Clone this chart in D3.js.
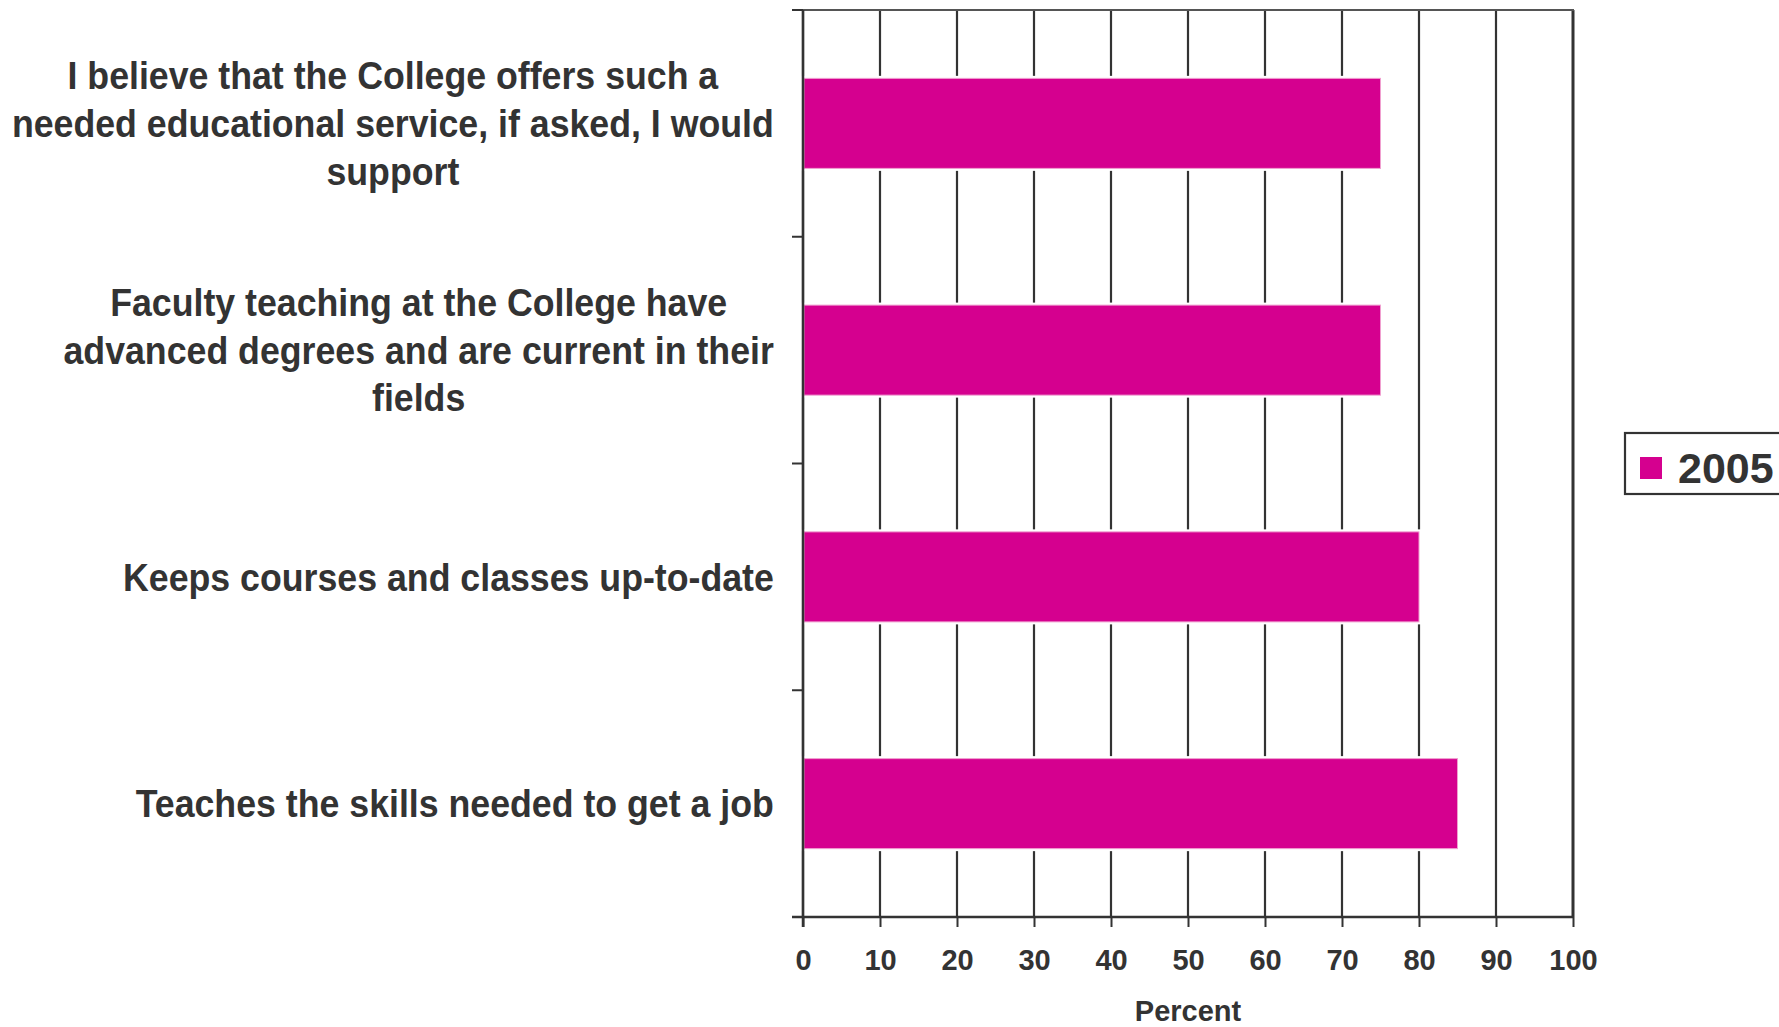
<!DOCTYPE html>
<html>
<head>
<meta charset="utf-8">
<script src="https://cdn.jsdelivr.net/npm/d3@7"></script>
<style>
  html, body { margin: 0; padding: 0; background: #fff; }
  svg { display: block; font-family: "Liberation Sans", Arial, sans-serif; }
</style>
</head>
<body>
<svg id="chart" width="1779" height="1027"></svg>
<script>
// ---- data ----
const categories = [
  "I believe that the College offers such a needed educational service, if asked, I would support",
  "Faculty teaching at the College have advanced degrees and are current in their fields",
  "Keeps courses and classes up-to-date",
  "Teaches the skills needed to get a job"
];
const categoryLines = [
  ["I believe that the College offers such a", "needed educational service, if asked, I would", "support"],
  ["Faculty teaching at the College have", "advanced degrees and are current in their", "fields"],
  ["Keeps courses and classes up-to-date"],
  ["Teaches the skills needed to get a job"]
];
const values2005 = [75, 75, 80, 85];
const xTicks = [0, 10, 20, 30, 40, 50, 60, 70, 80, 90, 100];
const seriesName = "2005";
const xTitle = "Percent";

// ---- layout ----
const svg = d3.select("#chart");
const pLeft = 803, pRight = 1573, pTop = 10, pBottom = 917;
const barColor = "#D5008F";
const ink = "#333333";

const x = d3.scaleLinear().domain([0, 100]).range([pLeft, pRight]);
const y = d3.scaleBand().domain(categories).range([pTop, pBottom])
  .paddingInner(0.603).paddingOuter(0.3015);

// gridlines
svg.append("g").selectAll("line").data(xTicks).join("line")
  .attr("x1", d => x(d)).attr("x2", d => x(d))
  .attr("y1", pTop).attr("y2", pBottom)
  .attr("stroke", ink)
  .attr("stroke-width", d => d === 100 ? 3 : 2.2);

// top border
svg.append("line").attr("x1", pLeft - 11).attr("x2", pRight + 1)
  .attr("y1", pTop).attr("y2", pTop).attr("stroke", "#555").attr("stroke-width", 2.2);

// bars
svg.append("g").selectAll("rect").data(categories).join("rect")
  .attr("x", x(0) + 1)
  .attr("y", d => y(d))
  .attr("width", (d, i) => x(values2005[i]) - x(0) - 1)
  .attr("height", y.bandwidth())
  .attr("fill", barColor)
  .attr("stroke", "#fff").attr("stroke-width", 5)
  .attr("paint-order", "stroke");
svg.append("g").selectAll("rect").data(categories).join("rect")
  .attr("x", x(0) + 1)
  .attr("y", d => y(d))
  .attr("width", (d, i) => x(values2005[i]) - x(0) - 1)
  .attr("height", y.bandwidth())
  .attr("fill", "none")
  .attr("stroke", "#f0a0d0").attr("stroke-width", 1);

// left axis line
svg.append("line").attr("x1", pLeft).attr("x2", pLeft).attr("y1", pTop).attr("y2", pBottom + 10)
  .attr("stroke", ink).attr("stroke-width", 2.5);

// y ticks at band boundaries
const step = y.step();
const yBounds = d3.range(categories.length + 1).map(i => pTop + i * step);
svg.append("g").selectAll("line").data(yBounds).join("line")
  .attr("x1", pLeft - 11).attr("x2", pLeft)
  .attr("y1", d => d).attr("y2", d => d)
  .attr("stroke", ink).attr("stroke-width", 2);

// bottom axis
const xAxis = d3.axisBottom(x).tickValues(xTicks).tickSize(10).tickPadding(10).tickFormat(d3.format("d"));
const gx = svg.append("g").attr("transform", `translate(0,${pBottom})`).call(xAxis);
gx.select(".domain").attr("d", `M${pLeft - 11},0H${pRight + 1}`).attr("stroke", ink).attr("stroke-width", 2.5);
gx.selectAll(".tick line").attr("stroke", ink).attr("stroke-width", 2);
gx.selectAll(".tick text")
  .attr("fill", ink).attr("font-size", 29).attr("font-weight", "bold")
  .attr("font-family", "'Liberation Sans', Arial, sans-serif")
  .attr("dy", null).attr("y", 53);

// x title
svg.append("text").attr("x", (pLeft + pRight) / 2).attr("y", 1021)
  .attr("text-anchor", "middle").attr("font-size", 29).attr("font-weight", "bold")
  .attr("fill", ink).text(xTitle);

// category labels (slightly condensed, as in the original)
const labelRight = 774, lineH = 47.7, labelFont = 38, hScale = 0.94;
categories.forEach((c, i) => {
  const lines = categoryLines[i];
  const cy = y(c) + y.bandwidth() / 2;
  const g = svg.append("g");
  const texts = g.selectAll("text").data(lines).join("text")
    .attr("font-size", labelFont).attr("font-weight", "bold").attr("fill", ink)
    .attr("text-anchor", "middle")
    .attr("y", (d, j) => cy + (j - (lines.length - 1) / 2) * lineH + labelFont * 0.36)
    .text(d => d);
  let maxW = 0;
  texts.each(function () { maxW = Math.max(maxW, this.getComputedTextLength()); });
  const cx = labelRight - maxW * hScale / 2;
  texts.attr("x", 0);
  g.attr("transform", `translate(${cx},0) scale(${hScale},1)`);
});

// legend
const lg = svg.append("g");
lg.append("rect").attr("x", 1625).attr("y", 433).attr("width", 200).attr("height", 61)
  .attr("fill", "#fff").attr("stroke", ink).attr("stroke-width", 2.2);
lg.append("rect").attr("x", 1640).attr("y", 457).attr("width", 22).attr("height", 22)
  .attr("fill", barColor);
lg.append("text").attr("x", 1678).attr("y", 483).attr("font-size", 43).attr("font-weight", "bold")
  .attr("fill", ink).text(seriesName);
</script>
</body>
</html>
